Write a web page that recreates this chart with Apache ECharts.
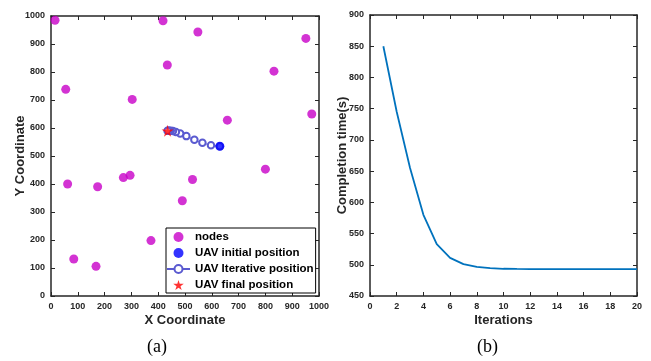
<!DOCTYPE html>
<html>
<head>
<meta charset="utf-8">
<script src="https://cdn.jsdelivr.net/npm/echarts@6/dist/echarts.min.js"></script>
<style>
  html, body { margin: 0; padding: 0; background: #fff; }
  #main { width: 651px; height: 361px; }
</style>
</head>
<body>
<div id="main"></div>
<script>
// (a) node positions
var nodes = [
  [15, 985], [418, 983], [548, 943], [434, 825], [55, 738], [303, 702],
  [658, 628], [951, 920], [832, 803], [973, 650], [800, 453], [62, 400],
  [174, 390], [270, 423], [295, 431], [528, 416], [490, 340], [373, 198],
  [85, 132], [168, 106]
];
var uavInitial = [[630, 535]];
var uavIterative = [
  [630, 535], [597, 538], [565, 547], [535, 558], [505, 571], [482, 580],
  [466, 586], [455, 589], [447, 590], [441, 590], [437, 590], [435, 590]
];
var uavFinal = [[435, 590]];

// (b) completion time per iteration
var iterations = [1, 2, 3, 4, 5, 6, 7, 8, 9, 10, 11, 12, 13, 14, 15, 16, 17, 18, 19, 20];
var completionTime = [850, 745, 655, 580, 533, 511, 501, 496.5, 494.5, 493.6, 493.3, 493.1, 493, 493, 493, 493, 493, 493, 493, 493];

var starPath = 'path://M50,0 L61,35 L98,35 L68,57 L79,91 L50,70 L21,91 L32,57 L2,35 L39,35 Z';
var axisColor = '#262626';
var font = 'Liberation Sans, Arial, sans-serif';

function boxAxis(gridIndex, pos, opts) {
  var showLabel = pos === 'bottom' || pos === 'left';
  return Object.assign({
    type: 'value',
    gridIndex: gridIndex,
    position: pos,
    nameMoveOverlap: false,
    splitLine: { show: false },
    axisLine: { show: true, onZero: false, lineStyle: { color: axisColor, width: 1.5 } },
    axisTick: { show: true, inside: true, length: 4, lineStyle: { color: axisColor, width: 1 } },
    axisLabel: {
      show: showLabel, color: axisColor, fontSize: 9, fontWeight: 'bold',
      fontFamily: font, margin: 6,
      formatter: function (v) { return String(v); }
    },
    nameTextStyle: { color: axisColor, fontSize: 13, fontWeight: 'bold', fontFamily: font }
  }, opts);
}

var myChart = echarts.init(document.getElementById('main'), null, { renderer: 'canvas' });
myChart.setOption({
  backgroundColor: '#fff',
  animation: false,
  grid: [
    { left: 51, right: 332, top: 16, bottom: 65 },
    { left: 370, right: 14, top: 15, bottom: 65 }
  ],
  xAxis: [
    boxAxis(0, 'bottom', { min: 0, max: 1000, interval: 100, name: 'X Coordinate', nameLocation: 'middle', nameGap: 18 }),
    boxAxis(0, 'top', { min: 0, max: 1000, interval: 100 }),
    boxAxis(1, 'bottom', { min: 0, max: 20, interval: 2, name: 'Iterations', nameLocation: 'middle', nameGap: 18 }),
    boxAxis(1, 'top', { min: 0, max: 20, interval: 2 })
  ],
  yAxis: [
    boxAxis(0, 'left', { min: 0, max: 1000, interval: 100, name: 'Y Coordinate', nameLocation: 'middle', nameGap: 24 }),
    boxAxis(0, 'right', { min: 0, max: 1000, interval: 100 }),
    boxAxis(1, 'left', { min: 450, max: 900, interval: 50, name: 'Completion time(s)', nameLocation: 'middle', nameGap: 21 }),
    boxAxis(1, 'right', { min: 450, max: 900, interval: 50 })
  ],
  legend: {
    orient: 'vertical',
    left: 166,
    top: 228,
    padding: [3, 2, 2, 0],
    itemGap: 4,
    itemWidth: 23,
    itemHeight: 10,
    borderColor: '#000',
    borderWidth: 1,
    borderRadius: 0,
    backgroundColor: '#fff',
    textStyle: { color: '#000', fontSize: 11.5, fontWeight: 'bold', fontFamily: font },
    data: [
      { name: 'nodes' },
      { name: 'UAV initial position' },
      { name: 'UAV Iterative position' },
      { name: 'UAV final position' }
    ]
  },
  graphic: [
    { type: 'text', left: 147, top: 338, style: { text: '(a)', font: '18px "Liberation Serif", serif', fill: '#000' } },
    { type: 'text', left: 477, top: 338, style: { text: '(b)', font: '18px "Liberation Serif", serif', fill: '#000' } }
  ],
  series: [
    {
      name: 'nodes', type: 'scatter', xAxisIndex: 0, yAxisIndex: 0,
      symbol: 'circle', symbolSize: 9,
      itemStyle: { color: '#c800c8' },
      data: nodes
    },
    {
      name: 'UAV initial position', type: 'scatter', xAxisIndex: 0, yAxisIndex: 0,
      symbol: 'circle', symbolSize: 9, z: 4,
      itemStyle: { color: '#0000ff' },
      data: uavInitial
    },
    {
      name: 'UAV Iterative position', type: 'line', xAxisIndex: 0, yAxisIndex: 0,
      symbol: 'emptyCircle', symbolSize: 6.5, showAllSymbol: true,
      lineStyle: { color: '#5a5ad0', width: 0.9 },
      itemStyle: { color: '#5a5ad0', borderWidth: 0.6 },
      data: uavIterative
    },
    {
      name: 'UAV final position', type: 'scatter', xAxisIndex: 0, yAxisIndex: 0,
      symbol: starPath, symbolSize: 12, z: 5,
      itemStyle: { color: '#ff0000' },
      data: uavFinal
    },
    {
      name: 'Completion time', type: 'line', xAxisIndex: 2, yAxisIndex: 2,
      symbol: 'none',
      lineStyle: { color: '#0072bd', width: 1.8 },
      data: iterations.map(function (it, i) { return [it, completionTime[i]]; })
    }
  ]
});
</script>
</body>
</html>
